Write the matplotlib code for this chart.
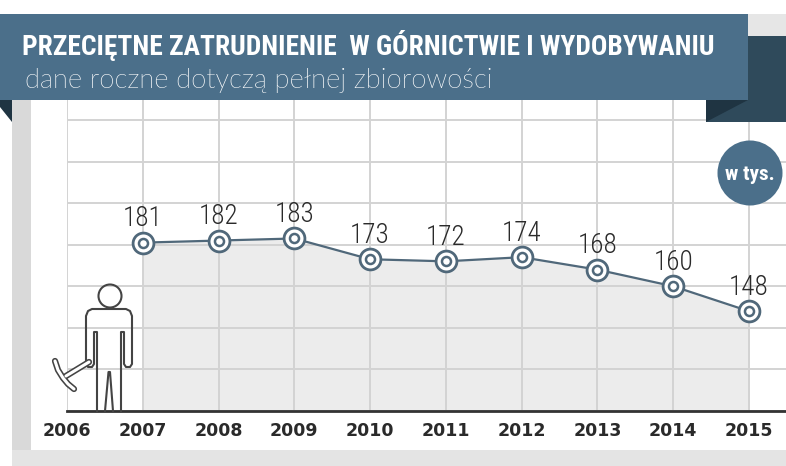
import matplotlib
matplotlib.use('Agg')
import matplotlib.pyplot as plt
from matplotlib import font_manager as fm
from matplotlib.patches import Rectangle, Polygon, Circle

# ---- data ----
years = [2006, 2007, 2008, 2009, 2010, 2011, 2012, 2013, 2014, 2015]
value_years = [2007, 2008, 2009, 2010, 2011, 2012, 2013, 2014, 2015]
values = [181, 182, 183, 173, 172, 174, 168, 160, 148]
y_grid = [100, 120, 140, 160, 180, 200, 220, 240]

title = 'PRZECIĘTNE ZATRUDNIENIE  W GÓRNICTWIE I WYDOBYWANIU'
subtitle = 'dane roczne dotyczą pełnej zbiorowości'
unit_label = 'w tys.'

BLUE = '#4b6f8a'
DARK = '#2f4a5b'
FOLD = '#1f3442'
LINE = '#50687a'
INK = '#2a2a2a'


def find_family(cands, wmin=0, wmax=1000):
    for name in cands:
        for f in fm.fontManager.ttflist:
            w = f.weight if isinstance(f.weight, (int, float)) else fm.weight_dict.get(f.weight, 400)
            if f.name == name and wmin <= w <= wmax:
                return name, w
    return 'DejaVu Sans', 400


title_font, title_w = find_family(['Oswald', 'Bebas Neue', 'League Gothic', 'Roboto Condensed',
                                   'Open Sans Condensed', 'Noto Sans ExtraCondensed',
                                   'Noto Sans Condensed', 'Liberation Sans Narrow',
                                   'DejaVu Sans Condensed', 'Roboto', 'DejaVu Sans'], wmin=600)
light_font, light_w = find_family(['Roboto Condensed', 'Open Sans Condensed', 'Noto Sans Condensed',
                                   'Lato', 'Roboto', 'Open Sans', 'Noto Sans', 'DejaVu Sans'], wmax=300)
sub_font, sub_w = find_family(['Lato', 'Roboto', 'Open Sans', 'Noto Sans', 'DejaVu Sans'], wmax=300)
condensed_light = 'Condensed' in light_font

W, H = 786, 466
fig = plt.figure(figsize=(W / 100, H / 100), dpi=100)
fig.patch.set_facecolor('white')


def px_axes(x0, y0, x1, y1, z):
    return fig.add_axes([x0 / W, 1 - y1 / H, (x1 - x0) / W, (y1 - y0) / H], zorder=z)


# background frame
back = fig.add_axes([0, 0, 1, 1], zorder=0)
back.set_xlim(0, W)
back.set_ylim(H, 0)
back.axis('off')
back.add_patch(Rectangle((12, 100), 19, H - 100, color='#d9d9d9', lw=0))
back.add_patch(Rectangle((12, 450), W - 12, 16, color='#e4e4e4', lw=0))

# ---- chart ----
ax = px_axes(67, 100, 786, 411, 1)
ax.patch.set_visible(False)
ax.set_xlim(2006, 2006 + (786 - 67) / 75.78)
ax.set_ylim(100, 100 + 311 / 2.0786)
for s in ['top', 'right', 'left']:
    ax.spines[s].set_visible(False)
ax.spines['bottom'].set_color('#333333')
ax.spines['bottom'].set_linewidth(2)
ax.spines['bottom'].set_zorder(5)

ax.set_xticks(years)
ax.set_xticklabels([str(y) for y in years], fontweight='bold', fontsize=12.5, color=INK)
ax.set_yticks(y_grid)
ax.tick_params(axis='x', length=0, pad=8)
ax.tick_params(axis='y', length=0, labelleft=False)
ax.grid(True, color='#d3d3d3', lw=1.4)
ax.set_axisbelow(False)

ax.fill_between(value_years, values, 100, color='#ececec', lw=0, zorder=1)
ax.plot(value_years, values, color=LINE, lw=1.6, zorder=3)
ax.plot(value_years, values, ls='none', marker='o', ms=15, mfc='white', mec=LINE, mew=2.0, zorder=4)
ax.plot(value_years, values, ls='none', marker='o', ms=6.5, mfc='white', mec=LINE, mew=1.8, zorder=5)

num_size = 19.5 if condensed_light else 15
for x, v in zip(value_years, values):
    ax.annotate(str(v), (x, v), xytext=(0, 12), textcoords='offset points',
                ha='center', va='baseline', fontsize=num_size, color=INK,
                family=light_font, fontweight=light_w, zorder=6)

# ---- foreground decoration ----
front = fig.add_axes([0, 0, 1, 1], zorder=2)
front.set_xlim(0, W)
front.set_ylim(H, 0)
front.patch.set_alpha(0)
front.axis('off')

# miner pictogram
fc = '#444444'
front.add_patch(Circle((110, 296), 11.5, fill=False, ec=fc, lw=1.5))
bx = [97, 97, 94, 94, 92, 88, 86, 86, 88, 92, 126, 130, 132, 132, 130, 126, 124, 124, 121, 121]
by = [411, 332, 332, 364, 367, 367, 364, 316, 311, 309, 309, 311, 316, 364, 367, 367, 364, 332, 332, 411]
front.plot(bx, by, color=fc, lw=1.5, solid_joinstyle='round')
front.plot([105, 108.5, 110, 113], [411, 372, 372, 411], color=fc, lw=1.5)
hx, hy = [89, 66], [362, 376]
kx, ky = [55, 58, 63, 68, 74], [361, 370, 378, 384, 389]
front.plot(hx, hy, color=fc, lw=4.5, solid_capstyle='round')
front.plot(kx, ky, color=fc, lw=4.5, solid_capstyle='round')
front.plot(hx, hy, color='white', lw=2.2, solid_capstyle='round')
front.plot(kx, ky, color='white', lw=2.2, solid_capstyle='round')

# banner
front.add_patch(Rectangle((748, 14), 38, 22, color='#e6e6e6', lw=0))
front.add_patch(Rectangle((706, 36), 80, 86, color=DARK, lw=0))
front.add_patch(Polygon([(706, 100), (748, 100), (706, 122)], color=FOLD, lw=0))
front.add_patch(Polygon([(0, 100), (12, 100), (12, 122), (0, 107)], color=FOLD, lw=0))
front.add_patch(Rectangle((0, 14), 748, 86, color=BLUE, lw=0))

# unit badge
front.add_patch(Circle((750, 173), 32.5, color=BLUE, lw=0))

t_title = front.text(22, 55, title, color='white', fontsize=20, family=title_font,
                     fontweight='bold', va='baseline', ha='left')
t_sub = front.text(25, 88, subtitle, color='white', fontsize=16, family=sub_font,
                   fontweight=sub_w, va='baseline', ha='left')
t_unit = front.text(750, 174, unit_label, color='white', fontsize=14, family=title_font,
                    fontweight='bold', va='center', ha='center')

r = fig.canvas.get_renderer()


def fit(t, target, max_size):
    w = t.get_window_extent(renderer=r).width
    t.set_fontsize(min(max_size, t.get_fontsize() * target / w))


fit(t_title, 692, 25)
fit(t_sub, 468, 21)
fit(t_unit, 50, 17)

fig.savefig('out.png', dpi=100)
